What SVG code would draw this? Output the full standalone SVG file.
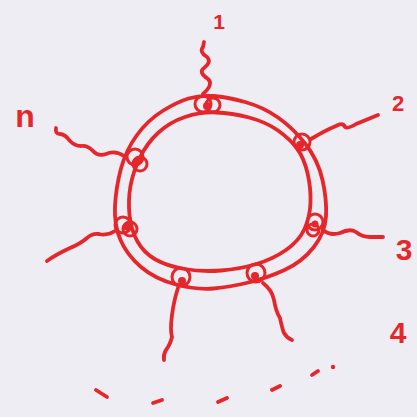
<svg xmlns="http://www.w3.org/2000/svg" width="417" height="417" viewBox="0 0 417 417">
<style>
.ink{fill:none;stroke:#e5262b;stroke-width:3.8;stroke-linecap:round;stroke-linejoin:round}
.nd{fill:none;stroke:#e5262b;stroke-width:3}
.blob{fill:#e5262b}
.lbl{fill:#e5262b;font-family:"Liberation Sans",Arial,sans-serif;text-anchor:middle;font-weight:bold}
</style>
<rect width="417" height="417" fill="#eeedf4"/>
<g id="ring">
<path class="ink" d="M188.5,98.5 Q200,95 213.5,96 Q227,97 245,102 Q263,107 278,117.5 Q293,128 305.5,144 Q318,160 322.5,180 Q327,200 326,216.5 Q325,233 313.5,247.5 Q302,262 284.5,270 Q267,278 248.5,282.5 Q230,287 213.5,288.5 Q197,290 176,284.5 Q155,279 141,267 Q127,255 120.5,240 Q114,225 115,206 Q116,187 121,168.5 Q126,150 137,135 Q148,120 162.5,111 Q177,102 188.5,98.5 Z"/>
<path class="ink" d="M185,117 Q200,112 216,112.5 Q232,113 249,117.5 Q266,122 278,130.5 Q290,139 297,148.5 Q304,158 307.5,173 Q311,188 310.5,202.5 Q310,217 304.5,229 Q299,241 286,250 Q273,259 256.5,264 Q240,269 221,270.5 Q202,272 184.5,269 Q167,266 155.5,259.5 Q144,253 137.5,241.5 Q131,230 129.5,215 Q128,200 130.5,186 Q133,172 140,157.5 Q147,143 158.5,132.5 Q170,122 185,117 Z"/>
</g>
<g id="connectors">
<path class="ink" d="M203,94 Q214,84 208,79 Q198,72 204,68 Q212,62 207,57 Q199,52 203,47 L204,42"/>
<path class="ink" d="M311,139 Q326,130 336,126 Q343,122 345,127 Q348,129 356,124 Q366,120 378,115"/>
<path class="ink" d="M323,230 Q330,236 340,233 Q350,228 356,232 Q362,237 370,237 L383,237"/>
<path class="ink" d="M263,283 Q272,290 274,300 Q276,312 280,318 Q282,328 284,333 Q287,338 292,340"/>
<path class="ink" d="M178,288 Q174,300 172,315 Q170,330 172,337 Q170,345 166,350 Q163,355 164,360"/>
<path class="ink" d="M115,231 Q107,236 99,234 Q92,233 87,238 Q80,244 70,248 Q55,255 47,261"/>
<path class="ink" d="M124,156 Q115,150 106,154 Q98,157 92,150 Q87,145 81,146 Q75,146 70,141 Q65,134 60,134 Q55,134 56,128"/>
</g>
<g id="node1"><circle class="nd" cx="203" cy="104" r="8"/><circle class="nd" cx="213" cy="105" r="7"/><circle class="blob" cx="207" cy="106" r="4"/></g>
<g id="node2"><circle class="nd" cx="302" cy="142" r="8"/><circle class="blob" cx="300" cy="145" r="4"/></g>
<g id="node3"><circle class="nd" cx="315" cy="222" r="8"/><circle class="nd" cx="313" cy="230" r="6"/><circle class="blob" cx="315" cy="224" r="3.5"/></g>
<g id="node4"><circle class="nd" cx="256" cy="273" r="9"/><circle class="blob" cx="255" cy="276" r="4"/></g>
<g id="node5"><circle class="nd" cx="181" cy="277" r="9"/><circle class="blob" cx="182" cy="281" r="4"/></g>
<g id="node6"><circle class="nd" cx="123" cy="225" r="8"/><circle class="nd" cx="130" cy="229" r="7"/><circle class="blob" cx="127" cy="227" r="3.5"/></g>
<g id="nodeN"><circle class="nd" cx="135" cy="157" r="8"/><circle class="nd" cx="140" cy="164" r="7"/><circle class="blob" cx="137" cy="161" r="3.5"/></g>
<g id="labels">
<text class="lbl" x="219" y="29" font-size="21">1</text>
<text class="lbl" x="398" y="111" font-size="22">2</text>
<text class="lbl" x="404" y="260" font-size="30">3</text>
<text class="lbl" x="398" y="343" font-size="30">4</text>
<text class="lbl" x="25" y="127" font-size="32">n</text>
</g>
<g id="ellipsis">
<line class="ink" x1="96" y1="390" x2="107" y2="397"/>
<line class="ink" x1="153" y1="403" x2="162" y2="400"/>
<line class="ink" x1="218" y1="402" x2="227" y2="398"/>
<line class="ink" x1="272" y1="390" x2="280" y2="386"/>
<line class="ink" x1="312" y1="375" x2="318" y2="371"/>
<circle class="blob" cx="333" cy="367" r="2.2"/>
</g>
</svg>
